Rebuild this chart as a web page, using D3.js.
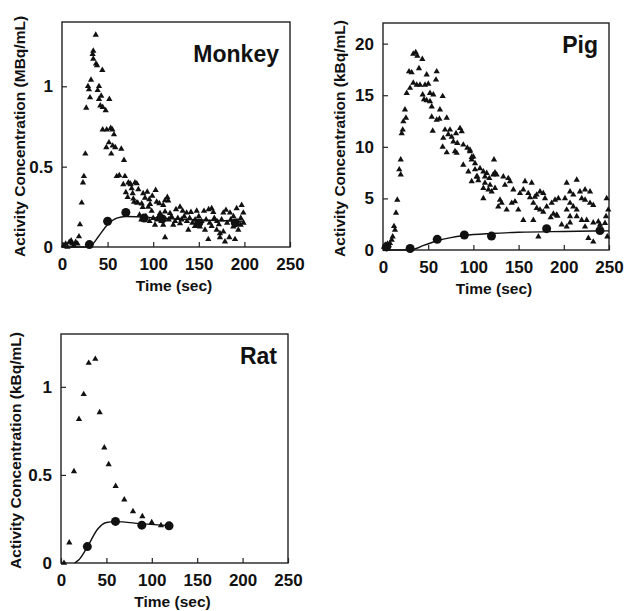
<!DOCTYPE html>
<html>
<head>
<meta charset="utf-8">
<script src="https://cdn.jsdelivr.net/npm/d3@7"></script>
<style>
  body { margin: 0; background: #fff; }
  text { font-family: "Liberation Sans", Arial, Helvetica, sans-serif; font-weight: bold; fill: #111; }
</style>
</head>
<body>
<svg id="chart"></svg>
<script>
// ---- data: [time (sec), concentration] ----
const monkeyTriangles = [
  [2,0.01],[4,0.02],[6,0.0],[8,0.03],[10,0.04],[11,0.02],[13,0.01],[15,0.03],[17,0.02],
  [18.6,0.065],[19.7,0.14],[21.6,0.275],[23,0.40],[24,0.44],[25.6,0.58],[26.6,0.865],
  [28.5,1.0],[29.6,0.98],[30.7,0.93],[31.8,1.04],[33.6,1.20],[34.3,1.22],[34.3,1.17],
  [37,1.32],[37.3,1.14],[38.4,1.13],[39.1,0.975],[40.6,1.0],[40.6,0.92],[42,0.88],[43,0.94],
  [44.2,1.10],[44.6,0.87],[44.6,0.73],[47.9,0.85],[48.6,0.62],[49,0.73],[51.5,0.65],[51.9,0.92],
  [53.4,0.74],[54,0.58],[55.2,0.73],[55.6,0.63],[57,0.70],[58.4,0.62],[60,0.44],[62.8,0.445],
  [65,0.61],[67.2,0.39],[68,0.54],[69,0.44],[70,0.34],[72,0.31],[72.7,0.40],[74.6,0.395],
  [75.3,0.39],[76.4,0.365],[77.5,0.333],[78.2,0.30],[79,0.28],[80,0.40],[81.9,0.275],
  [82,0.395],[83,0.275],[83.7,0.358],[87.4,0.27],[88.5,0.247],[89,0.333],[91,0.306],
  [93.5,0.343],[94.6,0.25],[95.7,0.296],[96.5,0.267],[98.3,0.224],[99,0.318],[102,0.137],
  [102.7,0.354],[103.8,0.281],[106.7,0.271],[107.5,0.21],[111,0.26],[111,0.137],[113,0.29],
  [113,0.22],[113,0.06],[115.5,0.31],[116.5,0.288],[118.4,0.21],[122,0.137],[125,0.234],
  [129.4,0.25],[129.4,0.147],[132.3,0.225],[136.7,0.213],[138.5,0.106],[141.4,0.217],
  [145.8,0.13],[147.7,0.225],[151.3,0.126],[155.7,0.224],[156.8,0.106],[160.4,0.048],
  [160.8,0.234],[164.1,0.24],[164.1,0.13],[165.9,0.217],[169.6,0.106],[173.2,0.085],
  [173.2,0.06],[176.9,0.213],[176.9,0.095],[178.7,0.033],[179.8,0.23],[183.5,0.06],
  [184.2,0.213],[187.8,0.126],[189.7,0.048],[191.5,0.24],[193.3,0.106],[195.9,0.137],
  [197,0.26],[198.8,0.213],
  [85,0.20],[87,0.17],[92,0.19],[96,0.16],[100,0.18],[104,0.17],[106,0.19],[109,0.16],
  [117,0.17],[120,0.19],[124,0.16],[127,0.18],[131,0.17],[134,0.19],[137,0.16],[140,0.18],
  [143,0.15],[146,0.17],[150,0.19],[153,0.16],[158,0.17],[162,0.15],[167,0.18],[170,0.16],
  [172,0.14],[175,0.17],[181,0.15],[185,0.17],[188,0.19],[192,0.16],[196,0.18],[199,0.15]
];
const monkeyCircles = [[30,0.015],[50,0.16],[70,0.215],[90,0.18],[110,0.175],[150,0.15],[190,0.15]];
const monkeyCurve = [[0,0],[25,0],[32,0.01],[40,0.065],[50,0.14],[60,0.18],[70,0.19],[90,0.186],
  [120,0.176],[160,0.166],[200,0.16]];

const pigTriangles = [
  [1,0.3],[2.5,0.5],[4,0.35],[5,0.6],[6.5,0.45],[7.7,0.65],[9.6,0.97],[10.7,1.3],[12.2,2.3],
  [13.3,1.95],[14.4,3.6],[15.8,4.85],[18,7.8],[19.6,7.3],[19.6,8.75],[20.7,11.3],[21.8,11.65],
  [22.5,12.45],[24.3,13.6],[25.4,12.8],[26.2,15.2],[28.8,17.3],[29.9,15.7],[31.7,17.2],
  [33.5,19.0],[33.5,16.2],[36.2,19.15],[37.3,16.0],[38,18.8],[39.8,17.6],[40.9,16.0],
  [43.5,18.5],[43.9,15.05],[45.4,14.6],[46.5,16.0],[48.3,17.0],[48.3,14.5],[50.1,16.1],
  [52,15.2],[52,14.4],[53.9,13.9],[53.9,12.9],[55,11.55],[55.7,15.05],[58.6,16.5],[59.4,17.3],
  [59.4,12.6],[62.4,12.7],[63,13.6],[66,14.9],[66,10.0],[66.7,10.85],[68.6,11.65],[70.5,12.8],
  [70.5,9.45],[72.2,11.2],[74.1,11.65],[76,10.95],[77.8,10.5],[79.6,9.55],[80.8,11.3],
  [81.5,9.4],[82.2,10.35],[85.2,11.8],[87.1,11.5],[88.8,10.2],[88.8,8.25],[93.3,9.9],
  [94.4,7.6],[96.2,9.55],[96.2,9.7],[98.1,9.0],[98.1,6.65],[98.1,8.75],[99.9,9.05],[101.8,7.8],
  [101.8,8.4],[103.6,7.1],[104.3,7.1],[105.4,6.75],[107.3,7.9],[111,7.6],[111,6.0],[111,5.0],
  [112.8,6.5],[112.8,7.1],[114.7,7.45],[116.6,5.85],[117.6,6.95],[118.4,6.3],[120.2,5.65],
  [122,7.3],[122.8,8.75],[123.9,7.5],[123.9,6.0],[125.7,7.3],[127.5,4.2],[129.4,4.85],
  [131.3,4.55],[133.1,7.1],[134.9,6.3],[136.8,3.9],[138.6,6.95],[140.5,6.65],[142.4,4.55],
  [144.2,5.85],[146,4.7],[149.7,3.9],[151.5,5.5],[155.2,5.85],[155.2,2.9],[157.1,6.65],
  [160.7,5.5],[162.6,5.1],[164.5,6.5],[166.3,4.55],[166.3,2.9],[168.1,5.15],[170,5.35],
  [170,4.05],[171.9,1.3],[173.7,5.65],[173.7,3.9],[177.3,5.5],[177.3,3.7],[179.2,5.0],
  [181.1,4.2],[185.5,3.15],[186.6,4.55],[188.5,3.5],[190.3,4.85],[192,3.4],[192.9,3.3],
  [194,5.0],[197.6,2.45],[201.3,5.0],[203.2,6.5],[203.2,3.9],[203.2,2.25],[206.9,5.65],
  [206.9,4.55],[206.9,3.25],[206.9,2.65],[210.5,5.35],[210.5,4.2],[214.3,6.8],[214.3,3.9],
  [214.3,3.25],[217.9,5.65],[219.8,5.0],[219.8,2.9],[223.5,5.85],[223.5,4.85],[223.5,2.25],
  [225.3,2.9],[227.2,1.15],[229,5.65],[229,4.55],[232.6,4.35],[232.6,2.65],[232.6,0.8],
  [238.2,2.75],[240,2.45],[245.6,2.6],[246.7,3.25],[247.4,5.0],[248.1,1.3],[249.2,3.9]
];
const pigCircles = [[4,0.3],[30,0.15],[60,1.03],[90,1.45],[120,1.35],[181,2.07],[240,1.88]];
const pigCurve = [[0,0],[28,0],[35,0.1],[45,0.45],[60,0.9],[75,1.2],[90,1.4],[120,1.6],
  [150,1.72],[200,1.8],[250,1.85]];

const ratTriangles = [[3.3,0.0],[9.1,0.116],[14.3,0.52],[19.8,0.817],[25,0.958],[30.5,1.135],
  [37.8,1.158],[42.6,0.855],[47.7,0.655],[52.5,0.56],[60.2,0.436],[69.7,0.36],[79.3,0.293],
  [89.6,0.265],[99.9,0.23],[110.1,0.213]];
const ratCircles = [[29,0.093],[60,0.236],[89,0.215],[119,0.211]];
const ratCurve = [[15,0],[20,0.02],[30,0.1],[40,0.19],[50,0.23],[60,0.235],[90,0.222],[120,0.212]];

const xTicks = [0, 50, 100, 150, 200, 250];
const monkeyYTicks = [0, 0.5, 1];
const pigYTicks = [0, 5, 10, 15, 20];
const ratYTicks = [0, 0.5, 1];

// ---- layout ----
const panels = [
  {name: "Monkey", unit: "Activity Concentration (MBq/mL)", box: {l: 62, r: 290, t: 22, b: 247},
   yMax: 1.4, yTicks: monkeyYTicks, tri: monkeyTriangles, dots: monkeyCircles, curve: monkeyCurve,
   yLabelX: 20, titleDy: 40},
  {name: "Pig", unit: "Activity Concentration (kBq/mL)", box: {l: 383, r: 609, t: 23, b: 250},
   yMax: 22, yTicks: pigYTicks, tri: pigTriangles, dots: pigCircles, curve: pigCurve,
   yLabelX: 340, titleDy: 30},
  {name: "Rat", unit: "Activity Concentration (kBq/mL)", box: {l: 61, r: 288, t: 334, b: 563},
   yMax: 1.3, yTicks: ratYTicks, tri: ratTriangles, dots: ratCircles, curve: ratCurve,
   yLabelX: 16, titleDy: 30}
];

const svg = d3.select("#chart").attr("width", 624).attr("height", 611);

panels.forEach(p => {
  const g = svg.append("g");
  const x = d3.scaleLinear().domain([0, 250]).range([p.box.l, p.box.r]);
  const y = d3.scaleLinear().domain([0, p.yMax]).range([p.box.b, p.box.t]);

  // frame
  g.append("rect")
    .attr("x", p.box.l).attr("y", p.box.t)
    .attr("width", p.box.r - p.box.l).attr("height", p.box.b - p.box.t)
    .attr("fill", "none").attr("stroke", "#222").attr("stroke-width", 1.4);

  // axes with inward ticks
  const xAxisG = g.append("g")
    .attr("transform", `translate(0,${p.box.b})`)
    .call(d3.axisBottom(x).tickValues(xTicks).tickSizeInner(-5).tickSizeOuter(0).tickPadding(11));
  const yAxisG = g.append("g")
    .attr("transform", `translate(${p.box.l},0)`)
    .call(d3.axisLeft(y).tickValues(p.yTicks).tickSizeInner(-5).tickSizeOuter(0).tickPadding(9)
      .tickFormat(d => d));
  [xAxisG, yAxisG].forEach(a => {
    a.select(".domain").remove();
    a.selectAll(".tick line").attr("stroke", "#222").attr("stroke-width", 1.2);
    a.selectAll(".tick text").style("font-size", "17px").attr("fill", "#111");
  });

  // fitted curve
  g.append("path")
    .datum(p.curve)
    .attr("fill", "none").attr("stroke", "#111").attr("stroke-width", 1.4)
    .attr("d", d3.line().x(d => x(d[0])).y(d => y(d[1])).curve(d3.curveMonotoneX));

  // triangles
  const tri = d3.symbol().type(d3.symbolTriangle).size(17);
  g.selectAll(".tri").data(p.tri).enter().append("path")
    .attr("class", "tri")
    .attr("d", tri)
    .attr("transform", d => `translate(${x(d[0])},${y(d[1])})`)
    .attr("fill", "#111");

  // circles
  g.selectAll(".dot").data(p.dots).enter().append("circle")
    .attr("class", "dot")
    .attr("cx", d => x(d[0])).attr("cy", d => y(d[1]))
    .attr("r", 4.5).attr("fill", "#111");

  // title
  g.append("text")
    .attr("x", p.box.r - 11).attr("y", p.box.t + p.titleDy)
    .attr("text-anchor", "end")
    .style("font-size", "23px")
    .text(p.name);

  // axis titles
  g.append("text")
    .attr("x", (p.box.l + p.box.r) / 2 - 2).attr("y", p.box.b + 44)
    .attr("text-anchor", "middle")
    .style("font-size", "15.5px")
    .text("Time (sec)");
  g.append("text")
    .attr("transform", `translate(${p.yLabelX + 5},${(p.box.t + p.box.b) / 2 + 2}) rotate(-90)`)
    .attr("text-anchor", "middle")
    .style("font-size", "15.5px")
    .text(p.unit);
});
</script>
</body>
</html>
